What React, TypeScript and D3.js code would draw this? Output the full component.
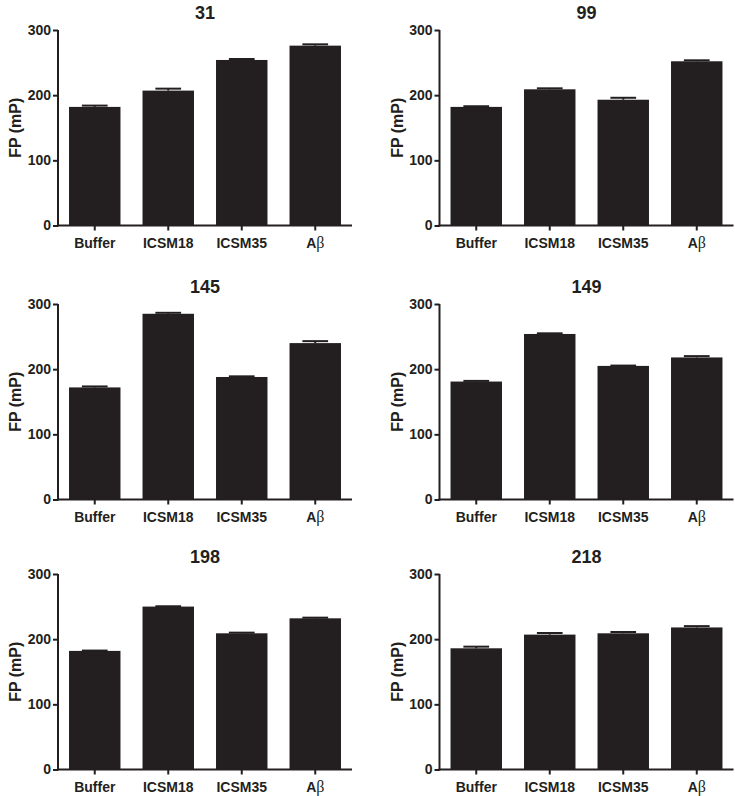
import React, { useRef, useEffect } from 'react';
import * as d3 from 'd3';

const categories = ['Buffer', 'ICSM18', 'ICSM35', 'Aβ'];
const panelTitles = ['31', '99', '145', '149', '198', '218'];
const yTicks = [0, 100, 200, 300];

// mean FP per panel, in category order
const values31 = [182, 207, 254, 276];
const values99 = [182, 209, 193, 252];
const values145 = [172, 285, 188, 240];
const values149 = [181, 254, 205, 218];
const values198 = [182, 250, 209, 232];
const values218 = [186, 207, 209, 218];

// SEM (upper error) per panel
const errors31 = [2, 3, 1.5, 2];
const errors99 = [1, 1.5, 3, 1.5];
const errors145 = [1.5, 1.5, 1, 3];
const errors149 = [1, 1, 0.5, 2];
const errors198 = [0.5, 0.5, 1, 1];
const errors218 = [2.5, 2.5, 2, 2];

const allValues = [values31, values99, values145, values149, values198, values218];
const allErrors = [errors31, errors99, errors145, errors149, errors198, errors218];

export default function App(): JSX.Element {
  const svgRef = useRef<SVGSVGElement>(null);

  useEffect(() => {
    const el = svgRef.current;
    if (el == null) return;
    const svg = d3.select(el);
    svg.selectAll('*').remove();

    const ink = '#231f20';
    const font = '"Liberation Sans", Arial, sans-serif';
    const colLeft = [58, 439.5];
    const rowTop = [30, 304, 574];
    const plotW = 294;
    const plotH = 195.5;

    panelTitles.forEach((title, i) => {
      const left = colLeft[i % 2];
      const top = rowTop[Math.floor(i / 2)];
      const g = svg.append('g').attr('transform', `translate(${left},${top})`);

      const x = d3
        .scaleBand()
        .domain(categories)
        .range([0, plotW])
        .paddingInner(0.3)
        .paddingOuter(0.15);
      const y = d3.scaleLinear().domain([0, 300]).range([plotH, 0]);

      const data = categories.map((c, k) => ({ cat: c, v: allValues[i][k], e: allErrors[i][k] }));

      // bars
      g.selectAll('rect.bar')
        .data(data)
        .join('rect')
        .attr('class', 'bar')
        .attr('x', (d) => x(d.cat) as number)
        .attr('y', (d) => y(d.v))
        .attr('width', x.bandwidth())
        .attr('height', (d) => y(0) - y(d.v))
        .attr('fill', ink);

      // error bars (upper only)
      const capW = x.bandwidth() * 0.5;
      g.selectAll('line.err')
        .data(data)
        .join('line')
        .attr('class', 'err')
        .attr('x1', (d) => (x(d.cat) as number) + x.bandwidth() / 2)
        .attr('x2', (d) => (x(d.cat) as number) + x.bandwidth() / 2)
        .attr('y1', (d) => y(d.v))
        .attr('y2', (d) => y(d.v + d.e))
        .attr('stroke', ink)
        .attr('stroke-width', 2);
      g.selectAll('line.cap')
        .data(data)
        .join('line')
        .attr('class', 'cap')
        .attr('x1', (d) => (x(d.cat) as number) + x.bandwidth() / 2 - capW / 2)
        .attr('x2', (d) => (x(d.cat) as number) + x.bandwidth() / 2 + capW / 2)
        .attr('y1', (d) => y(d.v + d.e))
        .attr('y2', (d) => y(d.v + d.e))
        .attr('stroke', ink)
        .attr('stroke-width', 2);

      // y axis
      const yAxis = g.append('g').call(
        d3.axisLeft(y).tickValues(yTicks).tickSize(5).tickPadding(2).tickFormat(d3.format('d'))
      );
      yAxis.select('.domain').attr('stroke', ink).attr('stroke-width', 2).attr('d', `M0,${plotH + 1}V0`);
      yAxis.selectAll('.tick line').attr('stroke', ink).attr('stroke-width', 2);
      yAxis
        .selectAll('.tick text')
        .attr('fill', ink)
        .style('font-family', font)
        .style('font-weight', 'bold')
        .style('font-size', '14px');

      // x axis
      const xAxis = g
        .append('g')
        .attr('transform', `translate(0,${plotH})`)
        .call(d3.axisBottom(x).tickSize(5).tickPadding(4));
      xAxis.select('.domain').attr('stroke', ink).attr('stroke-width', 2).attr('d', `M-1,0H${plotW}`);
      xAxis.selectAll('.tick line').attr('stroke', ink).attr('stroke-width', 2);
      xAxis.selectAll('.tick text').remove();
      xAxis
        .selectAll('.tick')
        .append('text')
        .attr('y', 22)
        .attr('text-anchor', 'middle')
        .attr('fill', ink)
        .style('font-family', font)
        .style('font-weight', 'bold')
        .style('font-size', '14px')
        .each(function (d) {
          const t = d3.select(this);
          const s = d as string;
          if (s === 'Aβ') {
            t.append('tspan').text('A');
            t.append('tspan')
              .text('β')
              .style('font-family', '"Liberation Serif", "DejaVu Serif", serif')
              .style('font-weight', 'normal')
              .style('font-size', '16px');
          } else {
            t.text(s);
          }
        });

      // title
      g.append('text')
        .attr('x', plotW / 2)
        .attr('y', -11)
        .attr('text-anchor', 'middle')
        .attr('fill', ink)
        .style('font-family', font)
        .style('font-weight', 'bold')
        .style('font-size', '18px')
        .text(title);

      // y label
      g.append('text')
        .attr('transform', `translate(-37,${plotH / 2}) rotate(-90)`)
        .attr('text-anchor', 'middle')
        .attr('fill', ink)
        .style('font-family', font)
        .style('font-weight', 'bold')
        .style('font-size', '16px')
        .text('FP (mP)');
    });
  }, []);

  return (
    <svg
      ref={svgRef}
      width={735}
      height={796}
      style={{ position: 'absolute', left: 0, top: 0, background: '#fff' }}
    />
  );
}
